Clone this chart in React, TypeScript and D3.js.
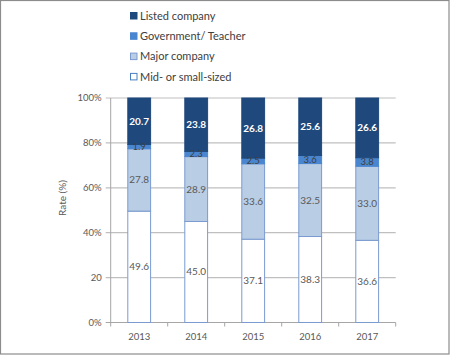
import React from "react";
import * as d3 from "d3";

const years = ["2013", "2014", "2015", "2016", "2017"];
const midSmall = [49.6, 45.0, 37.1, 38.3, 36.6];
const major = [27.8, 28.9, 33.6, 32.5, 33.0];
const government = [1.9, 2.3, 2.5, 3.6, 3.8];
const listed = [20.7, 23.8, 26.8, 25.6, 26.6];
const seriesNames = ["Mid- or small-sized", "Major company", "Government/ Teacher", "Listed company"];
const yTicks = [0, 20, 40, 60, 80, 100];
const yTickLabels = ["0%", "20", "40%", "60%", "80%", "100%"];

const fills = ["#ffffff", "#b9cde5", "#4a86d0", "#1f497d"];
const strokes = ["#7b9bd0", "#7b9bd0", "#4a86d0", "#1f497d"];
const labelColors = ["#595959", "#595959", "#404040", "#ffffff"];
const FONT = "Lato, 'Open Sans', sans-serif";

export default function App() {
  const W = 450, H = 355;
  const left = 110.7, right = 395.7, top = 98, bottom = 322.5;
  const x = d3.scaleBand().domain(years).range([left, right]).paddingInner(0.6).paddingOuter(0.3);
  const y = d3.scaleLinear().domain([0, 100]).range([bottom, top]);
  const seriesData = [midSmall, major, government, listed];
  const table = years.map((yr, i) => {
    const row: any = { year: yr };
    seriesNames.forEach((s, k) => (row[s] = seriesData[k][i]));
    return row;
  });
  const stacked = d3.stack().keys(seriesNames)(table);
  const step = (right - left) / years.length;
  const legendOrder = [3, 2, 1, 0];

  return (
    <svg width={W} height={H} style={{ position: "absolute", left: 0, top: 0 }} fontFamily={FONT}>
      <rect x={0.5} y={0.5} width={W - 1.5} height={H - 1.5} fill="#fff" stroke="#8c8c8c" strokeWidth={1.2} />
      {yTicks.map((t, i) => (
        <g key={t}>
          <line x1={left - 5} x2={right} y1={y(t)} y2={y(t)} stroke={t === 0 ? "#a6a6a6" : "#bfbfbf"} strokeWidth={1.2} />
          <text x={left - 9} y={y(t)} dy="0.35em" textAnchor="end" fontSize={9.5} fill="#595959">
            {yTickLabels[i]}
          </text>
        </g>
      ))}
      <line x1={left} x2={left} y1={top} y2={bottom} stroke="#a6a6a6" strokeWidth={1} />
      {d3.range(years.length + 1).map((i) => (
        <line key={i} x1={left + i * step} x2={left + i * step} y1={bottom} y2={bottom + 4} stroke="#a6a6a6" />
      ))}
      {years.map((yr) => (
        <text key={yr} x={(x(yr) as number) + x.bandwidth() / 2} y={bottom + 17} textAnchor="middle" fontSize={9.5} fill="#595959">
          {yr}
        </text>
      ))}
      <text transform={`translate(66,198) rotate(-90)`} textAnchor="middle" fontSize={10} fill="#595959">
        Rate (%)
      </text>
      {stacked.map((layer, k) => (
        <g key={layer.key}>
          {layer.map((d: any, i: number) => {
            const x0 = x(years[i]) as number;
            const y0 = y(d[1]);
            const h = y(d[0]) - y(d[1]);
            return (
              <g key={i}>
                <rect x={x0} y={y0} width={x.bandwidth()} height={h} fill={fills[k]} stroke={strokes[k]} strokeWidth={1} />
              </g>
            );
          })}
        </g>
      ))}
      {stacked.map((layer, k) => (
        <g key={"l" + layer.key}>
          {layer.map((d: any, i: number) => (
            <text
              key={i}
              x={(x(years[i]) as number) + x.bandwidth() / 2}
              y={y((d[0] + d[1]) / 2)}
              dy="0.35em"
              textAnchor="middle"
              fontSize={k === 2 ? 9.5 : 10}
              fontWeight={k === 3 ? "bold" : "normal"}
              fill={labelColors[k]}
            >
              {seriesData[k][i].toFixed(1)}
            </text>
          ))}
        </g>
      ))}
      {legendOrder.map((k, j) => (
        <g key={k} transform={`translate(130,${12 + j * 20.3})`}>
          <rect x={0.5} y={0.5} width={6.5} height={6.5} fill={fills[k]} stroke={k === 0 ? "#4a7fc0" : strokes[k]} strokeWidth={1} />
          <text x={10} y={4} dy="0.35em" fontSize={11} fill="#404040">
            {seriesNames[k]}
          </text>
        </g>
      ))}
    </svg>
  );
}
